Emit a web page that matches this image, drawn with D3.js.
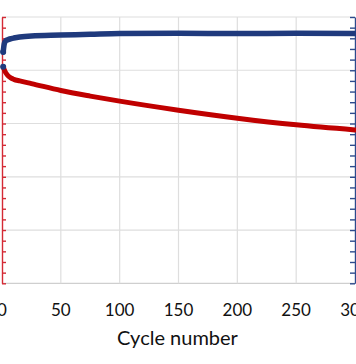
<!DOCTYPE html>
<html><head><meta charset="utf-8">
<script src="https://cdn.jsdelivr.net/npm/d3@7"></script>
<style>html,body{margin:0;padding:0;background:#fff;overflow:hidden}</style>
</head><body><svg id="c" width="356" height="364"></svg>
<script>
const cycles = [1,2,3,5,8,10,15,25,50,75,100,150,200,250,300];
const efficiency = [86.9,90.1,91.0,91.5,91.9,92.1,92.5,92.9,93.2,93.5,93.8,93.9,93.8,93.9,93.8];
const capacity = [81.3,80.1,79.2,78.0,77.0,76.6,76.0,75.0,72.4,70.3,68.4,65.0,62.0,59.5,57.6];
const xTicks = [0,50,100,150,200,250,300];
const yGrid = [0,20,40,60,80,100];
const xTitle = "Cycle number";

const svg = d3.select("#c");
const x = d3.scaleLinear().domain([0,300]).range([2,355]);
const y = d3.scaleLinear().domain([0,100]).range([283.3,17]);
const font = "Lato, 'Open Sans', sans-serif";

// gridlines
svg.append("g").selectAll("line").data(yGrid).join("line")
  .attr("x1",x(0)).attr("x2",x(300)).attr("y1",d=>y(d)).attr("y2",d=>y(d))
  .attr("stroke",d=>d===0?"#cfcfcf":"#dedede").attr("stroke-width",1.2);
svg.append("g").selectAll("line").data(xTicks.filter(d=>d>0&&d<300)).join("line")
  .attr("x1",d=>x(d)).attr("x2",d=>x(d)).attr("y1",y(0)).attr("y2",y(100))
  .attr("stroke","#dedede").attr("stroke-width",1.2);

// left axis (red)
const left = svg.append("g").attr("transform",`translate(${x(0)},0)`)
  .call(d3.axisRight(y).tickValues(d3.range(0,101,4)).tickSize(4).tickSizeOuter(0).tickFormat(""));
left.selectAll("path,line").attr("stroke","#d42a35").attr("stroke-width",1.4);

// right axis (blue)
const right = svg.append("g").attr("transform",`translate(${x(300)},0)`)
  .call(d3.axisLeft(y).tickValues(d3.range(0,101,4)).tickSize(5).tickSizeOuter(0).tickFormat(""));
right.selectAll("path,line").attr("stroke","#2d4a8c").attr("stroke-width",1.4);

// series
const line = d3.line().curve(d3.curveMonotoneX).x((d,i)=>x(cycles[i])).y(d=>y(d));
svg.append("path").datum(capacity).attr("d",line).attr("fill","none")
  .attr("stroke","#c00000").attr("stroke-width",5).attr("stroke-linecap","round");
svg.append("path").datum(efficiency).attr("d",line).attr("fill","none")
  .attr("stroke","#1f3a7d").attr("stroke-width",5.5).attr("stroke-linecap","round");
svg.append("circle").attr("cx",x(cycles[0])).attr("cy",y(efficiency[0])).attr("r",3).attr("fill","#1f3a7d");
svg.append("circle").attr("cx",x(cycles[0])).attr("cy",y(capacity[0])).attr("r",3).attr("fill","#1f3a7d");

// x tick labels
svg.append("g").selectAll("text").data(xTicks).join("text")
  .attr("x",d=>x(d)).attr("y",316).attr("text-anchor","middle")
  .attr("font-family",font).attr("font-size",17).attr("fill","#111").text(d=>d);
svg.append("text").attr("x",177.5).attr("y",345).attr("text-anchor","middle")
  .attr("font-family",font).attr("font-size",20).attr("fill","#111").text(xTitle);
</script></body></html>
